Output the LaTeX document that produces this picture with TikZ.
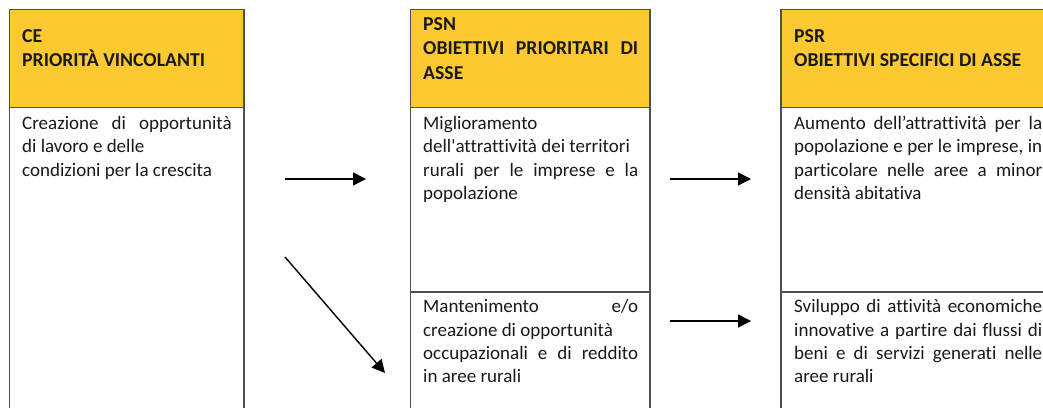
\documentclass[tikz,border=0pt]{standalone}
\usepackage{fontspec}
\setmainfont{Carlito}[Ligatures={TeX,NoCommon}]
\usetikzlibrary{arrows.meta}
\definecolor{hdr}{RGB}{252,201,49}
\definecolor{framec}{RGB}{80,80,80}
\definecolor{ink}{RGB}{25,25,25}
\newcommand{\bodyfont}{\fontsize{19}{23}\selectfont}
\newcommand{\headfont}{\fontsize{19.7}{24}\selectfont\bfseries}
\newcommand{\sline}[2]{\makebox[#1pt][s]{#2}}
\begin{document}
\begin{tikzpicture}[x=1pt,y=-1pt,
  ln/.style={anchor=base west, inner sep=0pt, font=\bodyfont, text=ink},
  hd/.style={anchor=base west, inner sep=0pt, font=\headfont, text=ink},
  boxline/.style={draw=framec, line width=1.3pt},
  arr/.style={-{Triangle[length=13pt,width=13pt]}, line width=1.4pt, black}]
\useasboundingbox (0,0) rectangle (1043,407);
\clip (0,0) rectangle (1043,407);
% header fills
\fill[hdr] (9.5,9.5) rectangle (244,107.5);
\fill[hdr] (410.5,9.5) rectangle (650,107.5);
\fill[hdr] (781,9.5) rectangle (1060,107.5);
% box frames
\draw[boxline] (9.5,420) -- (9.5,9.5) -- (244,9.5) -- (244,420);
\draw[boxline] (9.5,107.5) -- (244,107.5);
\draw[boxline] (410.5,420) -- (410.5,9.5) -- (650,9.5) -- (650,420);
\draw[boxline] (410.5,107.5) -- (650,107.5);
\draw[boxline] (410.5,292) -- (650,292);
\draw[boxline] (781,420) -- (781,9.5) -- (1060,9.5);
\draw[boxline] (781,107.5) -- (1060,107.5);
\draw[boxline] (781,292) -- (1060,292);
% box 1
\node[hd] (ce1) at (22,42.5) {CE};
\node[hd] (ce2) at (22,66.7) {PRIORITÀ VINCOLANTI};
\node[ln] (cb1) at (22,129) {\sline{209.5}{Creazione di opportunità}};
\node[ln] (cb2) at (22,152.5) {di lavoro e delle};
\node[ln] (cb3) at (22,176) {condizioni per la crescita};
% box 2
\node[hd] (pn1) at (423,30.5) {PSN};
\node[hd] (pn2) at (423,54.8) {\sline{215}{OBIETTIVI PRIORITARI DI}};
\node[hd] (pn3) at (423,79) {ASSE};
\node[ln] (pa1) at (423,129) {Miglioramento};
\node[ln] (pa2) at (423,152.5) {dell\textquotesingle attrattività dei territori};
\node[ln] (pa3) at (423,176) {\sline{215}{rurali per le imprese e la}};
\node[ln] (pa4) at (423,199.5) {popolazione};
\node[ln] (pb1) at (423,312.5) {\sline{215}{Mantenimento e/o}};
\node[ln] (pb2) at (423,336) {creazione di opportunità};
\node[ln] (pb3) at (423,359) {\sline{215}{occupazionali e di reddito}};
\node[ln] (pb4) at (423,382) {in aree rurali};
% box 3
\node[hd] (pr1) at (794,42.5) {PSR};
\node[hd] (pr2) at (794,66.7) {OBIETTIVI SPECIFICI DI ASSE};
\node[ln] (ra1) at (794,129) {\sline{248}{Aumento dell’attrattività per la}};
\node[ln] (ra2) at (794,152.5) {\sline{248}{popolazione e per le imprese, in}};
\node[ln] (ra3) at (794,176) {\sline{248}{particolare nelle aree a minor}};
\node[ln] (ra4) at (794,199.5) {densità abitativa};
\node[ln] (rb1) at (794,312.5) {\sline{248}{Sviluppo di attività economiche}};
\node[ln] (rb2) at (794,336) {\sline{248}{innovative a partire dai flussi di}};
\node[ln] (rb3) at (794,359) {\sline{248}{beni e di servizi generati nelle}};
\node[ln] (rb4) at (794,382) {aree rurali};
% arrows
\coordinate (a1s) at (285,179);
\coordinate (a1e) at (366,179);
\coordinate (a2s) at (285,257);
\coordinate (a2e) at (385,373);
\coordinate (a3s) at (670,179);
\coordinate (a3e) at (751,179);
\coordinate (a4s) at (670,321);
\coordinate (a4e) at (751,321);
\draw[arr] (a1s) -- (a1e);
\draw[arr] (a2s) -- (a2e);
\draw[arr] (a3s) -- (a3e);
\draw[arr] (a4s) -- (a4e);
\end{tikzpicture}
\end{document}
